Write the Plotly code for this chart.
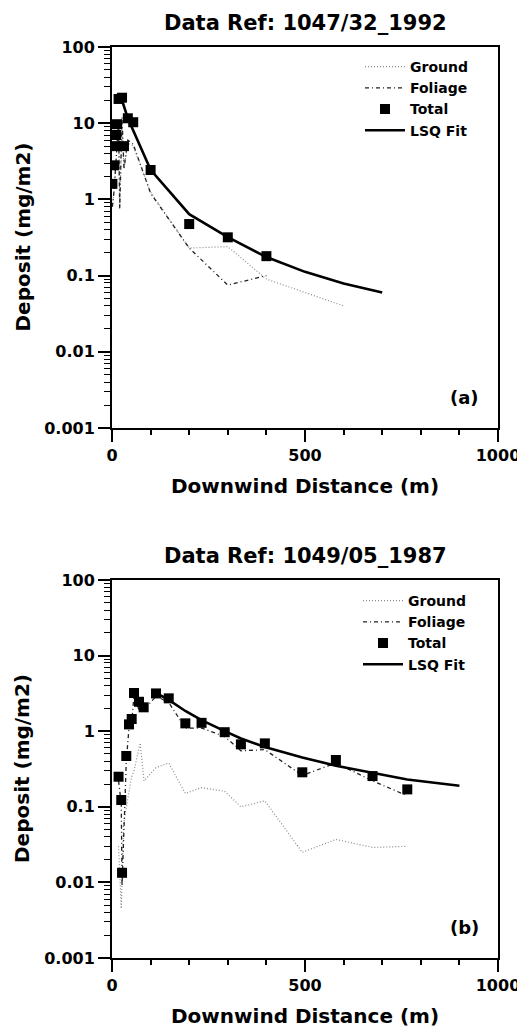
import plotly.graph_objects as go

# ---------------- data: panel (a) ----------------
a_total_x = [1, 6, 9, 11, 13, 17, 26, 31, 41, 55, 100, 200, 300, 400]
a_total_y = [1.6, 2.8, 5.0, 7.0, 9.7, 20.8, 21.6, 5.0, 11.6, 10.3, 2.43, 0.475, 0.318, 0.18]
a_ground_x = [1, 6, 9, 11, 13, 17, 20, 26, 31, 41, 55, 100, 200, 300, 400, 600]
a_ground_y = [0.8, 1.4, 2.5, 3.5, 4.5, 10, 0.8, 9.0, 2.5, 5.5, 5.0, 1.25, 0.23, 0.24, 0.09, 0.04]
a_fol_x = [1, 6, 9, 11, 13, 17, 20, 26, 31, 41, 55, 100, 200, 300, 400]
a_fol_y = [0.8, 1.4, 2.5, 3.5, 5.0, 10, 0.75, 12, 2.5, 6.0, 5.3, 1.2, 0.23, 0.075, 0.10]
a_fit_x = [26, 41, 100, 200, 300, 400, 500, 600, 700]
a_fit_y = [20, 11.6, 2.45, 0.64, 0.32, 0.175, 0.112, 0.079, 0.06]

# ---------------- data: panel (b) ----------------
b_total_x = [17, 24, 26, 37, 44, 51, 57, 70, 82, 114, 147, 190, 232, 292, 334, 396, 493, 580, 675, 765]
b_total_y = [0.25, 0.123, 0.0134, 0.47, 1.23, 1.45, 3.2, 2.45, 2.07, 3.16, 2.72, 1.27, 1.29, 0.97, 0.67, 0.69, 0.286, 0.416, 0.255, 0.17]
b_ground_x = [17, 24, 30, 37, 51, 57, 73, 83, 114, 147, 190, 232, 292, 334, 396, 493, 580, 675, 765]
b_ground_y = [0.03, 0.0045, 0.06, 0.1, 0.25, 0.3, 0.7, 0.22, 0.33, 0.38, 0.15, 0.18, 0.16, 0.10, 0.12, 0.025, 0.037, 0.029, 0.03]
b_fol_x = [17, 24, 26, 37, 44, 51, 57, 70, 82, 114, 147, 190, 232, 292, 334, 396, 493, 580, 675, 765]
b_fol_y = [0.22, 0.11, 0.009, 0.4, 1.1, 1.3, 3.0, 1.9, 1.9, 2.9, 2.4, 1.1, 1.1, 0.85, 0.55, 0.57, 0.26, 0.38, 0.22, 0.14]
b_fit_x = [114, 147, 190, 232, 292, 334, 396, 493, 580, 675, 765, 900]
b_fit_y = [3.2, 2.6, 1.85, 1.4, 1.0, 0.8, 0.62, 0.45, 0.35, 0.28, 0.23, 0.19]

# ---------------- ticks / labels ----------------
titles = ["Data Ref: 1047/32_1992", "Data Ref: 1049/05_1987"]
panel_tags = ["(a)", "(b)"]
y_tickvals = [0.001, 0.01, 0.1, 1, 10, 100]
y_ticktext = ["0.001", "0.01", "0.1", "1", "10", "100"]
x_tickvals = [0, 500, 1000]
x_ticktext = ["0", "500", "1000"]
series_names = ["Ground", "Foliage", "Total", "LSQ Fit"]

# The page body has an 8px default margin; size the figure so it ends at the window edge
OFF = 8
W, H = 525 - OFF, 1032 - OFF
FONT = "DejaVu Sans, Liberation Sans, Arial, sans-serif"

y_minor = [m * 10 ** e for e in range(-3, 2) for m in range(2, 10)]
x_minor = list(range(0, 1001, 100))

fig = go.Figure()

panels = [
    (a_ground_x, a_ground_y, a_fol_x, a_fol_y, a_total_x, a_total_y, a_fit_x, a_fit_y),
    (b_ground_x, b_ground_y, b_fol_x, b_fol_y, b_total_x, b_total_y, b_fit_x, b_fit_y),
]

for i, (gx, gy, fx, fy, tx, ty, lx, ly) in enumerate(panels):
    xa = "x" if i == 0 else "x2"
    ya = "y" if i == 0 else "y2"
    lg = "legend" if i == 0 else "legend2"
    fig.add_trace(go.Scatter(x=gx, y=gy, mode="lines", name=series_names[0],
                             line=dict(color="#8a8a8a", width=1.2, dash="1px,2px"),
                             xaxis=xa, yaxis=ya, legend=lg))
    fig.add_trace(go.Scatter(x=fx, y=fy, mode="lines", name=series_names[1],
                             line=dict(color="#222222", width=1.3, dash="4px,3px,1px,3px"),
                             xaxis=xa, yaxis=ya, legend=lg))
    fig.add_trace(go.Scatter(x=tx, y=ty, mode="markers", name=series_names[2],
                             marker=dict(symbol="square", size=10, color="black"),
                             xaxis=xa, yaxis=ya, legend=lg))
    fig.add_trace(go.Scatter(x=lx, y=ly, mode="lines", name=series_names[3],
                             line=dict(color="black", width=2.6),
                             xaxis=xa, yaxis=ya, legend=lg))

# page-pixel -> paper coordinates
def px2x(p):
    return (p - OFF) / W

def px2y(p):
    return 1 - (p - OFF) / H

# plot frame pixel positions (page coordinates)
left, right = 112, 498
frames = [(47, 428), (580, 958)]

axis_font = dict(family=FONT, size=16, color="black", weight="bold")

for i, (top, bot) in enumerate(frames):
    sfx = "" if i == 0 else "2"
    fig.update_layout(**{
        "xaxis" + sfx: dict(
            domain=[px2x(left), px2x(right)], range=[0, 1000],
            anchor="y" + sfx, tickvals=x_tickvals, ticktext=x_ticktext,
            ticks="outside", ticklen=12, tickwidth=1.5, tickcolor="black",
            ticklabeloverflow="allow",
            minor=dict(tickvals=x_minor, ticks="outside", ticklen=5, tickwidth=1.5, tickcolor="black", showgrid=False),
            showline=True, linewidth=2, linecolor="black", mirror=True,
            showgrid=False, zeroline=False, tickfont=axis_font,
        ),
        "yaxis" + sfx: dict(
            domain=[px2y(bot), px2y(top)], type="log", range=[-3, 2],
            anchor="x" + sfx, tickvals=y_tickvals, ticktext=y_ticktext,
            ticks="outside", ticklen=12, tickwidth=1.5, tickcolor="black",
            minor=dict(tickvals=y_minor, ticks="outside", ticklen=6, tickwidth=1.2, tickcolor="black", showgrid=False),
            showline=True, linewidth=2, linecolor="black", mirror=True,
            showgrid=False, zeroline=False, tickfont=axis_font,
        ),
    })

annotations = []
for i, (top, bot) in enumerate(frames):
    annotations.append(dict(text="<b>%s</b>" % titles[i], x=px2x((left + right) / 2), y=px2y(top - 24),
                            xref="paper", yref="paper", showarrow=False,
                            font=dict(family=FONT, size=21, color="black"), xanchor="center", yanchor="middle"))
    annotations.append(dict(text="<b>Deposit (mg/m2)</b>", x=px2x(22), y=px2y((top + bot) / 2),
                            xref="paper", yref="paper", showarrow=False, textangle=-90,
                            font=dict(family=FONT, size=20, color="black"), xanchor="center", yanchor="middle"))
    annotations.append(dict(text="<b>Downwind Distance (m)</b>", x=px2x((left + right) / 2), y=px2y(bot + 58),
                            xref="paper", yref="paper", showarrow=False,
                            font=dict(family=FONT, size=20, color="black"), xanchor="center", yanchor="middle"))
    annotations.append(dict(text="<b>%s</b>" % panel_tags[i], x=px2x(464), y=px2y(bot - 31),
                            xref="paper", yref="paper", showarrow=False,
                            font=dict(family=FONT, size=18, color="black"), xanchor="center", yanchor="middle"))

legend_common = dict(xanchor="left", yanchor="top", bgcolor="rgba(0,0,0,0)",
                     font=dict(family=FONT, size=14, color="black", weight="bold"),
                     tracegroupgap=0, itemwidth=40)

fig.update_layout(
    width=W, height=H,
    margin=dict(l=0, r=0, t=0, b=0, autoexpand=False),
    paper_bgcolor="white", plot_bgcolor="white",
    showlegend=True,
    legend=dict(x=px2x(360), y=px2y(51), **legend_common),
    legend2=dict(x=px2x(358), y=px2y(585), **legend_common),
    annotations=annotations,
    font=dict(family=FONT, color="black"),
)

fig.write_html("out.html")
